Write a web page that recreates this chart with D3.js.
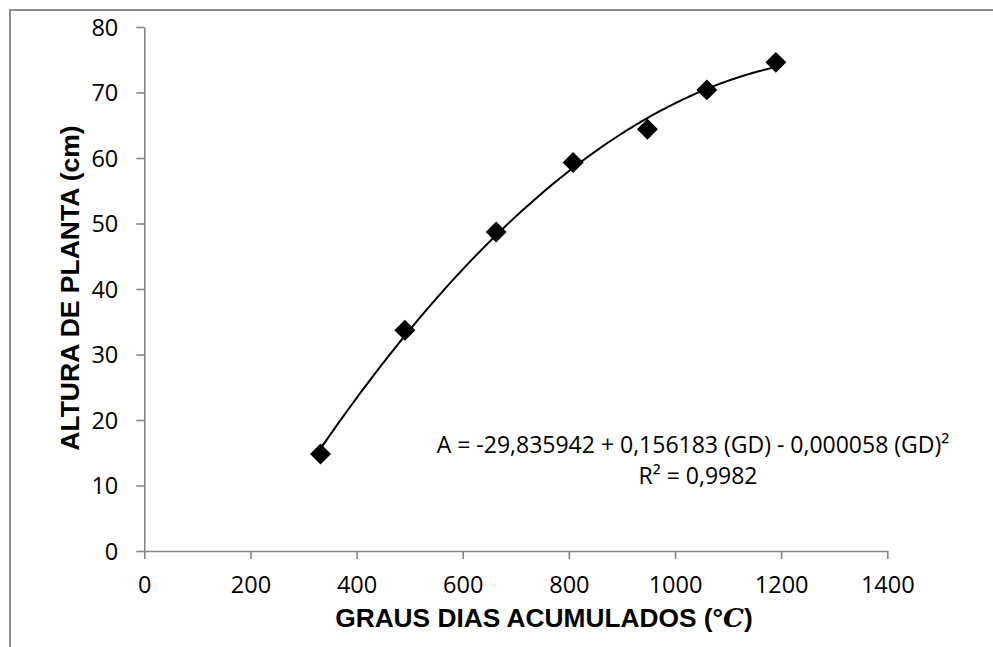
<!DOCTYPE html>
<html>
<head>
<meta charset="utf-8">
<script src="https://cdn.jsdelivr.net/npm/d3@7"></script>
<style>
  html, body { margin: 0; padding: 0; background: #fff; }
  svg { display: block; }
</style>
</head>
<body>
<svg id="chart" width="993" height="647"></svg>
<script>
// ---- data ----
const grausDias = [332, 491, 663, 808, 948, 1060, 1190];
const alturaPlanta = [14.8, 33.7, 48.7, 59.3, 64.4, 70.4, 74.6];
const xTicks = [0, 200, 400, 600, 800, 1000, 1200, 1400];
const yTicks = [0, 10, 20, 30, 40, 50, 60, 70, 80];
// trendline coefficients as printed on the chart
const trendCoef = [-29.835942, 0.156183, -0.000058];
const equationLines = ["A = -29,835942 + 0,156183 (GD) - 0,000058 (GD)²", "R² = 0,9982"];
const xTitle = "GRAUS DIAS ACUMULADOS (°";
const yTitle = "ALTURA DE PLANTA (cm)";

const svg = d3.select("#chart");
const axisColor = "#868686";

// outer frame (chart area border, clipped at right/bottom)
svg.append("rect").attr("x", 10).attr("y", 10).attr("width", 1100).attr("height", 800)
  .attr("fill", "none").attr("stroke", "#8c8c8c").attr("stroke-width", 2);

const x = d3.scaleLinear().domain([0, 1400]).range([144.3, 887.3]);
const y = d3.scaleLinear().domain([0, 80]).range([551, 27]);

const tickFont = "'Open Sans', sans-serif";

// y axis
const gy = svg.append("g").attr("transform", `translate(${x(0)},0)`)
  .call(d3.axisLeft(y).tickValues(yTicks).tickFormat(d3.format("d")).tickSize(8).tickSizeOuter(0).tickPadding(18));
// x axis
const gx = svg.append("g").attr("transform", `translate(0,${y(0)})`)
  .call(d3.axisBottom(x).tickValues(xTicks).tickFormat(d3.format("d")).tickSize(8).tickSizeOuter(0).tickPadding(17));

[gx, gy].forEach(g => {
  g.select(".domain").attr("stroke", axisColor).attr("stroke-width", 1.6);
  g.selectAll(".tick line").attr("stroke", axisColor).attr("stroke-width", 1.6);
  g.selectAll(".tick text").attr("fill", "#000").attr("font-family", tickFont).attr("font-size", 23.5);
});
gy.selectAll(".tick text").attr("dy", "0.36em");
gx.selectAll(".tick text").attr("dy", "0.72em");

// trendline
const xs = d3.range(grausDias[0], grausDias[grausDias.length - 1] + 0.001, (grausDias[grausDias.length - 1] - grausDias[0]) / 200);
const poly = v => trendCoef[0] + trendCoef[1] * v + trendCoef[2] * v * v;
svg.append("path")
  .datum(xs)
  .attr("fill", "none").attr("stroke", "#000").attr("stroke-width", 2)
  .attr("d", d3.line().x(d => x(d)).y(d => y(poly(d))).curve(d3.curveLinear));

// markers (diamonds = rotated squares)
const sym = d3.symbol().type(d3.symbolSquare).size(220);
svg.append("g").selectAll("path").data(grausDias.map((g, i) => [g, alturaPlanta[i]]))
  .join("path")
  .attr("d", sym)
  .attr("transform", d => `translate(${x(d[0])},${y(d[1])}) rotate(45)`)
  .attr("fill", "#000");

// equation text
const eqFont = "'Open Sans', sans-serif";
svg.append("text").attr("x", 693).attr("y", 453).attr("text-anchor", "middle")
  .attr("font-family", eqFont).attr("font-size", 23).attr("fill", "#000")
  .text(equationLines[0]);
svg.append("text").attr("x", 698).attr("y", 484).attr("text-anchor", "middle")
  .attr("font-family", eqFont).attr("font-size", 23).attr("fill", "#000")
  .text(equationLines[1]);

// axis titles
const titleFont = "'Liberation Sans', Arial, sans-serif";
const xt = svg.append("text").attr("x", 544).attr("y", 627).attr("text-anchor", "middle")
  .attr("font-family", titleFont).attr("font-size", 26.3).attr("font-weight", "bold").attr("fill", "#000");
xt.append("tspan").text(xTitle);
xt.append("tspan").attr("font-family", "'DejaVu Serif', serif").attr("font-style", "italic").text("C");
xt.append("tspan").text(")");

svg.append("text")
  .attr("transform", `translate(79,288) rotate(-90)`)
  .attr("text-anchor", "middle")
  .attr("font-family", titleFont).attr("font-size", 26.5).attr("font-weight", "bold").attr("fill", "#000")
  .text(yTitle);
</script>
</body>
</html>
